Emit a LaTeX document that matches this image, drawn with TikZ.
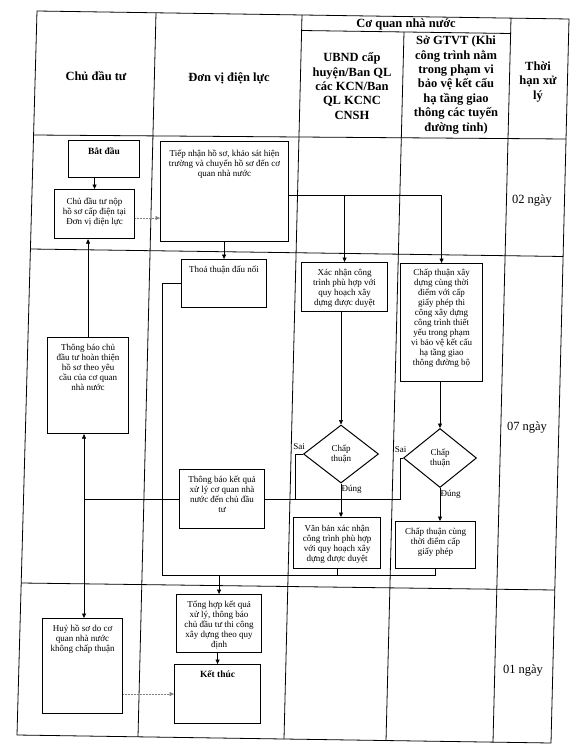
\documentclass[tikz,border=0pt]{standalone}
\usepackage{fontspec}
\setmainfont{Liberation Serif}
\usetikzlibrary{arrows.meta,shapes.geometric,calc}
\newcommand{\bxt}[4]{\parbox[c][#2][t]{#1}{\centering\rule{0pt}{#3}#4}}
\begin{document}
\begin{tikzpicture}[x=1pt,y=-1pt,
  tbl/.style={line width=0.8pt},
  bx/.style={draw, line width=1.1pt, inner sep=0pt, anchor=north west, font=\fontsize{9}{10}\selectfont},
  bxb/.style={bx, font=\fontsize{9.5}{11}\selectfont\bfseries},
  dm/.style={draw, diamond, line width=1pt, inner sep=0pt, font=\fontsize{9}{9.5}\selectfont, align=center},
  cnx/.style={line width=0.5pt},
  arr/.style={cnx, -{Triangle[length=4.5pt,width=4pt]}},
  dotarr/.style={cnx, gray, densely dotted, -{Triangle[length=4.5pt,width=4pt]}},
  hd/.style={font=\fontsize{12.5}{14.4}\selectfont\bfseries, align=center, inner sep=0pt},
  tm/.style={font=\fontsize{12.5}{14}\selectfont, inner sep=0pt},
  lbl/.style={font=\fontsize{9}{10}\selectfont, inner sep=0pt}]
\useasboundingbox (0,0) rectangle (576,752);
\fill[white] (0,0) rectangle (576,752);
% table
\draw[tbl] (37,11) -- (569,19) -- (551,743) -- (17,735) -- cycle;
\draw[tbl] (156,12.8) -- (138,736.8);
\draw[tbl] (302,15) -- (284,739);
\draw[tbl] (511,18.1) -- (493,742);
\draw[tbl] (404,32) -- (386,741);
\draw[tbl] (301.6,30.5) -- (510.6,33.5);
\draw[tbl] (33.6,135) -- (566,139);
\draw[tbl] (30.4,249) -- (563.1,256.5);
\draw[tbl] (21.2,583) -- (554.8,590);
% header
\node[hd] (hcdt) at (96,76) {Chủ đầu tư};
\node[hd] (hdv) at (229,78) {Đơn vị điện lực};
\node[hd] (hcq) at (406,24) {Cơ quan nhà nước};
\node[hd] (hub) at (352,86) {UBND cấp\\huyện/Ban QL\\các KCN/Ban\\QL KCNC\\CNSH};
\node[hd] (hsg) at (456,85) {Sở GTVT (Khi\\công trình nằm\\trong phạm vi\\bảo vệ kết cấu\\hạ tầng giao\\thông các tuyến\\đường tỉnh)};
\node[hd] (hth) at (538,82) {Thời\\hạn xử\\lý};
% times
\node[tm] (t1) at (532,201) {02 ngày};
\node[tm] (t2) at (527,427) {07 ngày};
\node[tm] (t3) at (523,670) {01 ngày};
% boxes
\node[bxb] (bd) at (68,140) {\bxt{71pt}{37pt}{13.5pt}{Bắt đầu}};
\node[bx] (cn) at (54,189) {\bxt{80pt}{49pt}{15pt}{Chủ đầu tư nộp\\hồ sơ cấp điện tại\\Đơn vị điện lực}};
\node[bx] (tn) at (160,141) {\bxt{128pt}{100pt}{15pt}{Tiếp nhận hồ sơ, khảo sát hiện\\trường và chuyển hồ sơ đến cơ\\quan nhà nước}};
\node[bx] (tt) at (181,259) {\bxt{85pt}{48pt}{13pt}{Thoả thuận đấu nối}};
\node[bx] (xn) at (301,262) {\bxt{86pt}{49pt}{13pt}{Xác nhận công\\trình phù hợp với\\quy hoạch xây\\dựng được duyệt}};
\node[bx] (cx) at (400,263) {\bxt{82pt}{118pt}{12pt}{Chấp thuận xây\\dựng cùng thời\\điểm với cấp\\giấy phép thi\\công xây dựng\\công trình thiết\\yếu trong phạm\\vi bảo vệ kết cấu\\hạ tầng giao\\thông đường bộ}};
\node[bx] (tc) at (47,337) {\bxt{81pt}{96pt}{13pt}{Thông báo chủ\\đầu tư hoàn thiện\\hồ sơ theo yêu\\cầu của cơ quan\\nhà nước}};
\node[bx] (tk) at (179,469) {\bxt{85pt}{59pt}{13pt}{Thông báo kết quả\\xử lý cơ quan nhà\\nước đến chủ đầu\\tư}};
\node[dm, minimum width=75pt, minimum height=58pt] (d1) at (341,454) {Chấp\\thuận};
\node[dm, minimum width=73pt, minimum height=59pt] (d2) at (440,458) {Chấp\\thuận};
\node[bx] (vb) at (293,517) {\bxt{87pt}{51pt}{14pt}{Văn bản xác nhận\\công trình phù hợp\\với quy hoạch xây\\dựng được duyệt}};
\node[bx] (ct) at (395,521) {\bxt{80pt}{47pt}{13pt}{Chấp thuận cùng\\thời điểm cấp\\giấy phép}};
\node[bx] (hh) at (42,618) {\bxt{80pt}{95pt}{13pt}{Huỷ hồ sơ do cơ\\quan nhà nước\\không chấp thuận}};
\node[bx] (th) at (176,594) {\bxt{85pt}{58pt}{13pt}{Tổng hợp kết quả\\xử lý, thông báo\\chủ đầu tư thi công\\xây dựng theo quy\\định}};
\node[bxb] (kt) at (174,664) {\bxt{86pt}{59pt}{13pt}{Kết thúc}};
% labels
\node[lbl] (s1) at (299,447) {Sai};
\node[lbl] (s2) at (400.5,450) {Sai};
\node[lbl] (g1) at (351.5,489) {Đúng};
\node[lbl] (g2) at (450.5,494) {Đúng};
% connectors
\draw[arr] (bd.south -| cn.north) -- (cn.north);
\coordinate (p1) at ($(cn.north east)!0.58!(cn.south east)$);
\draw[dotarr] (p1) -- (p1 -| tn.west);
\coordinate (p2) at ($(tn.north east)!0.54!(tn.south east)$);
\draw[cnx] (p2) -- (p2 -| cx.north);
\draw[arr] (p2 -| cx.north) -- (cx.north);
\draw[arr] (p2 -| xn.north) -- (xn.north);
\draw[arr] (tt.north |- tn.south) -- (tt.north);
\coordinate (j1) at (162,575);
\draw[cnx] (tt.west) -| (j1) -- (j1 -| ct.south);
\draw[cnx] (vb.south) -- (vb.south |- j1);
\draw[cnx] (ct.south) -- (ct.south |- j1);
\draw[arr] (j1 -| th.north) -- (th.north);
\coordinate (j2) at (84,0 |- tk.west);
\draw[cnx] (tk.west) -- (j2);
\draw[arr] (j2) -- (j2 |- tc.south);
\draw[arr] (j2) -- (j2 |- hh.north);
\draw[arr] (tc.north) -- (tc.north |- cn.south);
\draw[cnx] (d1.west) -- ++(-8,0) |- (tk.east);
\draw[cnx] (d2.west) -- ++(-3,0) |- (tk.east);
\draw[arr] (xn.south -| d1.north) -- (d1.north);
\draw[arr] (cx.south -| d2.north) -- (d2.north);
\draw[arr] (d1.south) -- (d1.south |- vb.north);
\draw[arr] (d2.south) -- (d2.south |- ct.north);
\draw[arr] (th.south -| kt.north) -- (kt.north);
\draw[dotarr] (hh.east |- kt.west) -- (kt.west);
\end{tikzpicture}
\end{document}
